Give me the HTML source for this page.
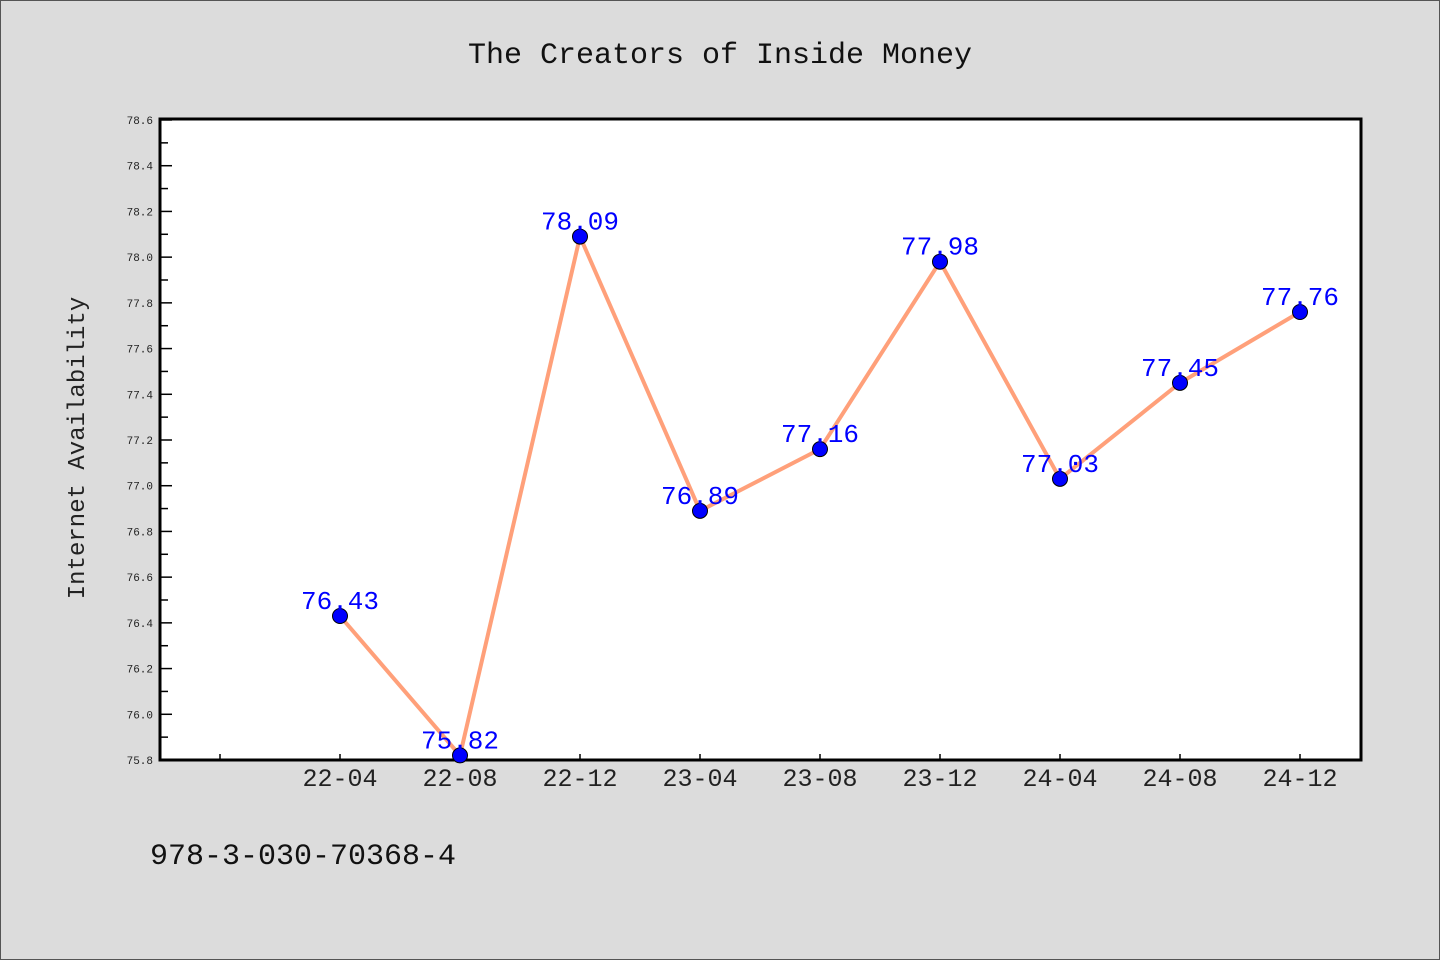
<!DOCTYPE html>
<html><head><meta charset="utf-8"><style>
html,body{margin:0;padding:0;background:#dcdcdc;}
svg{display:block;font-family:"WenQuanYi Zen Hei Mono","Liberation Mono",monospace;}
</style></head><body>
<svg id="chart" width="1440" height="960">
<rect x="0.5" y="0.5" width="1439" height="959" fill="#dcdcdc" stroke="#555"/>
<text x="720" y="63" text-anchor="middle" font-size="30" fill="#111">The Creators of Inside Money</text>
<rect x="160" y="119" width="1201" height="641" fill="#fff" stroke="#000" stroke-width="3"/>
<text transform="translate(84,448) rotate(-90)" text-anchor="middle" font-size="24" fill="#222">Internet Availability</text>
<text x="150" y="864" font-size="30" fill="#111">978-3-030-70368-4</text>
<g id="axes"></g><g id="series"></g>
</svg>
<script>
const categories=["","22-04","22-08","22-12","23-04","23-08","23-12","24-04","24-08","24-12"];
const values=[null,76.43,75.82,78.09,76.89,77.16,77.98,77.03,77.45,77.76];
const yTicks=[75.8,76.0,76.2,76.4,76.6,76.8,77.0,77.2,77.4,77.6,77.8,78.0,78.2,78.4,78.6];
const NS="http://www.w3.org/2000/svg";
const yMin=75.8,yMax=78.6,plotTop=120,plotBot=760,plotLeft=160;
function yScale(v){return plotBot-(v-yMin)/(yMax-yMin)*(plotBot-plotTop);}
function xScale(i){return 220+120*i;}
function mk(t,a,p){const e=document.createElementNS(NS,t);for(const k in a)e.setAttribute(k,a[k]);p.appendChild(e);return e;}
const ax=document.getElementById('axes'),se=document.getElementById('series');
yTicks.forEach((v,i)=>{
 const l=mk('line',{x1:plotLeft,x2:plotLeft+12,y1:yScale(v),y2:yScale(v),stroke:'#000','stroke-width':1.5},ax);
 
 
 const t=mk('text',{x:153,y:yScale(v)+4,'text-anchor':'end','font-size':11,fill:'#222'},ax);
 t.textContent=v.toFixed(1);
 
 
 if(i<yTicks.length-1){const m=mk('line',{x1:plotLeft,x2:plotLeft+8,y1:yScale(v+0.1),y2:yScale(v+0.1),stroke:'#000','stroke-width':1.5},ax);
 
 }
});
categories.forEach((c,i)=>{
 const l=mk('line',{x1:xScale(i),x2:xScale(i),y1:plotBot,y2:plotBot-6,stroke:'#000','stroke-width':1.5},ax);
 
 
 const t=mk('text',{x:xScale(i),y:786,'text-anchor':'middle','font-size':25,fill:'#222'},ax);
 t.textContent=c;
 
 
});
const pts=[];
values.forEach((v,i)=>{if(v!=null)pts.push([xScale(i),yScale(v)]);});
const pl=mk('polyline',{points:pts.map(p=>p.join(',')).join(' '),fill:'none',stroke:'#ffa07a','stroke-width':4},se);


values.forEach((v,i)=>{
 if(v==null)return;
 const c=mk('circle',{cx:xScale(i),cy:yScale(v),r:7.5,fill:'#0000ff',stroke:'#000','stroke-width':1},se);
 
 
 const t=mk('text',{x:xScale(i),y:yScale(v)-7,'text-anchor':'middle','font-size':26,fill:'#0000ff'},se);
 t.textContent=v.toFixed(2);
 
 
});
</script>
</body></html>
